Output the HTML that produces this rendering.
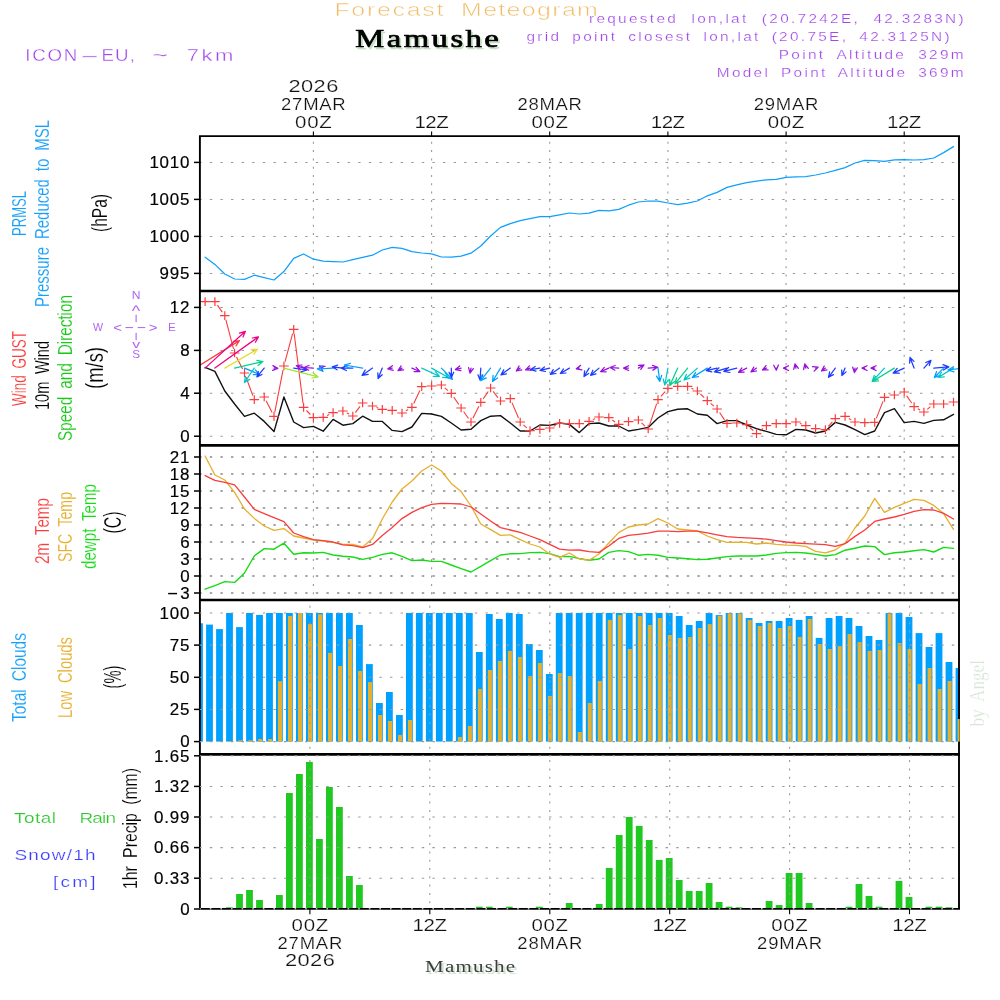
<!DOCTYPE html>
<html><head><meta charset="utf-8"><title>Forecast Meteogram - Mamushe</title>
<style>html,body{margin:0;padding:0;background:#fff}svg{display:block}</style></head>
<body>
<svg width="1000" height="1000" viewBox="0 0 1000 1000">
<rect width="1000" height="1000" fill="#fff"/>
<defs><clipPath id="c2"><rect x="199.9" y="291" width="759" height="154.4"/></clipPath>
<clipPath id="c4"><rect x="199.9" y="600" width="759.8" height="308.8"/></clipPath></defs>
<line x1="199.2" y1="162.4" x2="958" y2="162.4" stroke="#999" stroke-width="1.05" stroke-dasharray="2.4 8.2"/>
<line x1="199.2" y1="199.4" x2="958" y2="199.4" stroke="#999" stroke-width="1.05" stroke-dasharray="2.4 8.2"/>
<line x1="199.2" y1="236.4" x2="958" y2="236.4" stroke="#999" stroke-width="1.05" stroke-dasharray="2.4 8.2"/>
<line x1="199.2" y1="273.4" x2="958" y2="273.4" stroke="#999" stroke-width="1.05" stroke-dasharray="2.4 8.2"/>
<line x1="313.4" y1="141.8" x2="313.4" y2="291" stroke="#999" stroke-width="1.1" stroke-dasharray="2 6.3"/>
<line x1="431.6" y1="141.8" x2="431.6" y2="291" stroke="#999" stroke-width="1.1" stroke-dasharray="2 6.3"/>
<line x1="549.7" y1="141.8" x2="549.7" y2="291" stroke="#999" stroke-width="1.1" stroke-dasharray="2 6.3"/>
<line x1="667.9" y1="141.8" x2="667.9" y2="291" stroke="#999" stroke-width="1.1" stroke-dasharray="2 6.3"/>
<line x1="786.1" y1="141.8" x2="786.1" y2="291" stroke="#999" stroke-width="1.1" stroke-dasharray="2 6.3"/>
<line x1="904.2" y1="141.8" x2="904.2" y2="291" stroke="#999" stroke-width="1.1" stroke-dasharray="2 6.3"/>
<polyline points="205.1,257.2 214.9,264.4 224.8,274 234.6,279 244.5,279.4 254.3,275.2 264.2,277.6 274,280 283.9,271.6 293.7,258.4 303.6,254 313.4,259.2 323.2,261.2 333.1,261.6 342.9,262 352.8,259.6 362.6,257.4 372.5,255.2 382.3,250 392.2,247.4 402,248.4 411.9,251.6 421.7,253 431.6,253.8 441.4,257 451.3,257.2 461.1,256.2 471,253.2 480.8,246 490.6,236 500.5,227.4 510.3,223.6 520.2,220.6 530,218.6 539.9,216.6 549.7,216.6 559.6,214.8 569.4,213 579.3,214 589.1,213.2 599,210.4 608.8,210.8 618.7,209.4 628.5,205.2 638.4,202 648.2,201 658,201.2 667.9,203 677.7,204.6 687.6,203.2 697.4,201 707.3,195.8 717.1,192.4 727,187.4 736.8,184.8 746.7,182.6 756.5,181.2 766.4,179.8 776.2,179.4 786.1,177.4 795.9,176.8 805.8,176.6 815.6,175 825.4,173 835.3,170.4 845.1,167.6 855,163 864.8,160.4 874.7,160.6 884.5,161.4 894.4,159.8 904.2,159.6 914.1,160 923.9,159.6 933.8,158 943.6,152.6 953.5,146.6" fill="none" stroke="#0ea0fc" stroke-width="1.25" stroke-linejoin="round" stroke-linecap="round"/>
<line x1="199.2" y1="307.4" x2="958" y2="307.4" stroke="#999" stroke-width="1.05" stroke-dasharray="2.4 8.2"/>
<line x1="199.2" y1="350.4" x2="958" y2="350.4" stroke="#999" stroke-width="1.05" stroke-dasharray="2.4 8.2"/>
<line x1="199.2" y1="393.2" x2="958" y2="393.2" stroke="#999" stroke-width="1.05" stroke-dasharray="2.4 8.2"/>
<line x1="199.2" y1="436.2" x2="958" y2="436.2" stroke="#999" stroke-width="1.05" stroke-dasharray="2.4 8.2"/>
<line x1="313.4" y1="296.7" x2="313.4" y2="445.4" stroke="#999" stroke-width="1.1" stroke-dasharray="2 6.3"/>
<line x1="431.6" y1="296.7" x2="431.6" y2="445.4" stroke="#999" stroke-width="1.1" stroke-dasharray="2 6.3"/>
<line x1="549.7" y1="296.7" x2="549.7" y2="445.4" stroke="#999" stroke-width="1.1" stroke-dasharray="2 6.3"/>
<line x1="667.9" y1="296.7" x2="667.9" y2="445.4" stroke="#999" stroke-width="1.1" stroke-dasharray="2 6.3"/>
<line x1="786.1" y1="296.7" x2="786.1" y2="445.4" stroke="#999" stroke-width="1.1" stroke-dasharray="2 6.3"/>
<line x1="904.2" y1="296.7" x2="904.2" y2="445.4" stroke="#999" stroke-width="1.1" stroke-dasharray="2 6.3"/>
<polyline points="205.1,367.4 214.9,371.4 224.8,391 234.6,404 244.5,416.4 254.3,413.2 264.2,421.4 274,431.6 283.9,397 293.7,422 303.6,427.6 313.4,426.4 323.2,431.2 333.1,419.4 342.9,425.2 352.8,423.6 362.6,416.2 372.5,421.4 382.3,421.4 392.2,430.4 402,431.6 411.9,427 421.7,413.4 431.6,414 441.4,416.4 451.3,423 461.1,430 471,429.2 480.8,420.6 490.6,416.2 500.5,415.6 510.3,423 520.2,431 530,431 539.9,425 549.7,425.4 559.6,423 569.4,424.4 579.3,432.6 589.1,423.6 599,423 608.8,426 618.7,426 628.5,431 638.4,429.4 648.2,427.4 658,418 667.9,411.6 677.7,409.2 687.6,408.8 697.4,414 707.3,415.2 717.1,423.6 727,420.6 736.8,420.6 746.7,425 756.5,428.6 766.4,431.4 776.2,434.4 786.1,434.8 795.9,429.4 805.8,430 815.6,433 825.4,431 835.3,422.4 845.1,425 855,429.6 864.8,434.6 874.7,431 884.5,412.6 894.4,408.6 904.2,422.6 914.1,421.4 923.9,423.4 933.8,420.4 943.6,419.8 953.5,414.4" fill="none" stroke="#111" stroke-width="1.4" stroke-linejoin="round" stroke-linecap="round"/>
<path d="M217.4 305.1L222.3 312.1M225.9 319.8L233.5 348.8M236.5 356.9L242.6 369.1M246 377L252.8 395.6M266.1 400.8L272.1 412.6M274.8 412.2L283 370.2M285 361.8L292.6 333.6M294.2 333.7L303 403.1M306.5 410.5L310.4 414.5M327.1 415.5L329.2 414.5M346.8 412.9L349 414.1M355.4 412.6L360 406.4M376.5 407.4L378.3 408M405.8 410.9L408.1 409.5M413.7 403.5L419.9 390.5M444.7 387.8L448 390.6M453.7 397L458.7 404.4M463.6 411.5L468.5 418.5M472.9 418.2L478.9 406.2M483.2 398.9L488.2 391.5M493.2 391.4L497.9 397.6M512 402.6L518.5 418M523.4 424.8L526.8 427.8M553.6 426.2L555.7 425.2M593 419.6L595 418.8M612.3 420L615.1 422M641.5 422.9L645 426.1M649.6 424.9L656.7 403.7M660.9 396.4L665.1 391.6M691.5 388.2L693.5 389.2M700.5 394L704.2 397.6M710.6 403.4L713.9 406.2M719.6 412.5L724.5 419.9M749.8 427.5L753.3 430.7M759.9 430.9L763 428.3M799.9 423.5L801.7 424.1M828.3 426.4L832.4 421.8M848.9 418.5L851.2 419.9M876.3 418.4L883 401.4M906.6 395.6L911.7 403M917.8 408.7L920.1 409.9M927.3 409.3L930.4 406.7" stroke="#fa3c3c" stroke-width="1.1" fill="none"/>
<path d="M200.3 301.6h9.6M205.1 297.3v8.6M210.1 301.6h9.6M214.9 297.3v8.6M220 315.6h9.6M224.8 311.3v8.6M229.8 353h9.6M234.6 348.7v8.6M239.7 373h9.6M244.5 368.7v8.6M249.5 399.6h9.6M254.3 395.3v8.6M259.4 397h9.6M264.2 392.7v8.6M269.2 416.4h9.6M274 412.1v8.6M279.1 366h9.6M283.9 361.7v8.6M288.9 329.4h9.6M293.7 325.1v8.6M298.8 407.4h9.6M303.6 403.1v8.6M308.6 417.6h9.6M313.4 413.3v8.6M318.4 417.4h9.6M323.2 413.1v8.6M328.3 412.6h9.6M333.1 408.3v8.6M338.1 411h9.6M342.9 406.7v8.6M348 416h9.6M352.8 411.7v8.6M357.8 403h9.6M362.6 398.7v8.6M367.7 406h9.6M372.5 401.7v8.6M377.5 409.4h9.6M382.3 405.1v8.6M387.4 410.4h9.6M392.2 406.1v8.6M397.2 413h9.6M402 408.7v8.6M407.1 407.4h9.6M411.9 403.1v8.6M416.9 386.6h9.6M421.7 382.3v8.6M426.8 386h9.6M431.6 381.7v8.6M436.6 385h9.6M441.4 380.7v8.6M446.5 393.4h9.6M451.3 389.1v8.6M456.3 408h9.6M461.1 403.7v8.6M466.2 422h9.6M471 417.7v8.6M476 402.4h9.6M480.8 398.1v8.6M485.8 388h9.6M490.6 383.7v8.6M495.7 401h9.6M500.5 396.7v8.6M505.5 398.6h9.6M510.3 394.3v8.6M515.4 422h9.6M520.2 417.7v8.6M525.2 430.6h9.6M530 426.3v8.6M535.1 429.4h9.6M539.9 425.1v8.6M544.9 428h9.6M549.7 423.7v8.6M554.8 423.4h9.6M559.6 419.1v8.6M564.6 423.6h9.6M569.4 419.3v8.6M574.5 423.6h9.6M579.3 419.3v8.6M584.3 421.4h9.6M589.1 417.1v8.6M594.2 417h9.6M599 412.7v8.6M604 417.6h9.6M608.8 413.3v8.6M613.9 424.4h9.6M618.7 420.1v8.6M623.7 421.6h9.6M628.5 417.3v8.6M633.6 420h9.6M638.4 415.7v8.6M643.4 429h9.6M648.2 424.7v8.6M653.2 399.6h9.6M658 395.3v8.6M663.1 388.4h9.6M667.9 384.1v8.6M672.9 386.4h9.6M677.7 382.1v8.6M682.8 386.4h9.6M687.6 382.1v8.6M692.6 391h9.6M697.4 386.7v8.6M702.5 400.6h9.6M707.3 396.3v8.6M712.3 409h9.6M717.1 404.7v8.6M722.2 423.4h9.6M727 419.1v8.6M732 423h9.6M736.8 418.7v8.6M741.9 424.6h9.6M746.7 420.3v8.6M751.7 433.6h9.6M756.5 429.3v8.6M761.6 425.6h9.6M766.4 421.3v8.6M771.4 423.6h9.6M776.2 419.3v8.6M781.3 423.6h9.6M786.1 419.3v8.6M791.1 422h9.6M795.9 417.7v8.6M801 425.6h9.6M805.8 421.3v8.6M810.8 428.6h9.6M815.6 424.3v8.6M820.6 429.6h9.6M825.4 425.3v8.6M830.5 418.6h9.6M835.3 414.3v8.6M840.3 416.4h9.6M845.1 412.1v8.6M850.2 422h9.6M855 417.7v8.6M860 422.6h9.6M864.8 418.3v8.6M869.9 422.4h9.6M874.7 418.1v8.6M879.7 397.4h9.6M884.5 393.1v8.6M889.6 395h9.6M894.4 390.7v8.6M899.4 392h9.6M904.2 387.7v8.6M909.3 406.6h9.6M914.1 402.3v8.6M919.1 412h9.6M923.9 407.7v8.6M929 404h9.6M933.8 399.7v8.6M938.8 404h9.6M943.6 399.7v8.6M948.7 402h9.6M953.5 397.7v8.6" stroke="#fa3c3c" stroke-width="1.2" fill="none"/>
<g clip-path="url(#c2)" fill="none" stroke-width="1.25" stroke-linecap="round">
<path d="M195.2 368.1L239.4 340.6M239.4 340.6L233.2 341.3M239.4 340.6L236 345.8" stroke="#fa3c3c"/>
<path d="M205.1 368.1L245.4 331.3M245.4 331.3L239.5 333.2M245.4 331.3L243 337" stroke="#f00082"/>
<path d="M214.9 368.1L258.4 336.9M258.4 336.9L252.3 338M258.4 336.9L255.4 342.3" stroke="#f00082"/>
<path d="M224.8 368.1L257.5 349.1M257.5 349.1L251.3 349.7M257.5 349.1L254 354.2" stroke="#e6dc32"/>
<path d="M234.6 368.1L262.9 361.6M262.9 361.6L256.8 360.3M262.9 361.6L258 365.4" stroke="#00d28c"/>
<path d="M244.5 368.1L259.4 374.5M259.4 374.5L255.3 369.9M259.4 374.5L253.2 374.7" stroke="#00a0ff"/>
<path d="M254.3 368.1L244.4 382.5M244.4 382.5L249.7 379.4M244.4 382.5L245.4 376.4" stroke="#00c8c8"/>
<path d="M264.2 368.1L256.9 376.9M256.9 376.9L262 374.5M256.9 376.9L258.3 371.5" stroke="#1e3cff"/>
<path d="M274 368.1L277.8 368.4M277.8 368.4L272.9 365.6M277.8 368.4L272.6 370.4" stroke="#9a10dc"/>
<path d="M283.9 368.1L318.1 376.9M318.1 376.9L313.3 373M318.1 376.9L312 378" stroke="#a0e632"/>
<path d="M293.7 368.1L306.9 370M306.9 370L301.7 366.6M306.9 370L301 371.8" stroke="#1e3cff"/>
<path d="M303.6 368.1L296.3 365.6M296.3 365.6L300.3 369.5M296.3 365.6L301.9 365" stroke="#9a10dc"/>
<path d="M313.4 368.1L303.8 367.5M303.8 367.5L308.7 370.2M303.8 367.5L309 365.5" stroke="#9a10dc"/>
<path d="M323.2 368.1L319.4 365.8M319.4 365.8L322.5 370.4M319.4 365.8L325 366.4" stroke="#9a10dc"/>
<path d="M333.1 368.1L317.3 369M317.3 369L323.1 371.3M317.3 369L322.8 366.1" stroke="#00a0ff"/>
<path d="M342.9 368.1L332.3 366.9M332.3 366.9L337.1 369.8M332.3 366.9L337.6 365.1" stroke="#1e3cff"/>
<path d="M352.8 368.1L341.3 368.1M341.3 368.1L346.4 370.5M341.3 368.1L346.4 365.7" stroke="#1e3cff"/>
<path d="M362.6 368.1L344.4 365M344.4 365L349.5 368.5M344.4 365L350.4 363.4" stroke="#00a0ff"/>
<path d="M372.5 368.1L362.1 375.4M362.1 375.4L368.2 374.3M362.1 375.4L365.2 370" stroke="#1e3cff"/>
<path d="M382.3 368.1L378.1 378.5M378.1 378.5L382.2 374.7M378.1 378.5L377.8 372.9" stroke="#1e3cff"/>
<path d="M392.2 368.1L387.8 368.8M387.8 368.8L393.2 370.3M387.8 368.8L392.4 365.7" stroke="#9a10dc"/>
<path d="M402 368.1L398 370.6M398 370.6L403.6 369.9M398 370.6L401.1 365.9" stroke="#9a10dc"/>
<path d="M411.9 368.1L419.8 371.5M419.8 371.5L416.1 367.3M419.8 371.5L414.2 371.7" stroke="#9a10dc"/>
<path d="M421.7 368.1L439.4 376.3M439.4 376.3L435.4 371.6M439.4 376.3L433.2 376.3" stroke="#00c8c8"/>
<path d="M431.6 368.1L448.8 377.8M448.8 377.8L445.2 372.8M448.8 377.8L442.6 377.3" stroke="#00c8c8"/>
<path d="M441.4 368.1L452.5 379.4M452.5 379.4L450.4 373.6M452.5 379.4L446.7 377.2" stroke="#00a0ff"/>
<path d="M451.3 368.1L451.5 377.3M451.5 377.3L453.7 372.2M451.5 377.3L449 372.3" stroke="#1e3cff"/>
<path d="M461.1 368.1L455.4 369.6M455.4 369.6L460.9 370.6M455.4 369.6L459.7 366" stroke="#9a10dc"/>
<path d="M471 368.1L470 373.1M470 373.1L473.3 368.6M470 373.1L468.6 367.7" stroke="#9a10dc"/>
<path d="M480.8 368.1L480 380M480 380L482.7 375.1M480 380L478 374.8" stroke="#1e3cff"/>
<path d="M490.6 368.1L480.6 380.6M480.6 380.6L486.2 377.9M480.6 380.6L482.1 374.6" stroke="#00a0ff"/>
<path d="M500.5 368.1L492.5 381.5M492.5 381.5L497.6 378M492.5 381.5L493.1 375.3" stroke="#00a0ff"/>
<path d="M510.3 368.1L501 374.8M501 374.8L506.5 373.8M501 374.8L503.7 369.9" stroke="#1e3cff"/>
<path d="M520.2 368.1L516.3 371M516.3 371L521.8 369.9M516.3 371L519 366.1" stroke="#9a10dc"/>
<path d="M530 368.1L525.6 369.9M525.6 369.9L531.2 370.2M525.6 369.9L529.4 365.8" stroke="#9a10dc"/>
<path d="M539.9 368.1L530.6 369.6M530.6 369.6L536 371.1M530.6 369.6L535.2 366.5" stroke="#1e3cff"/>
<path d="M549.7 368.1L540 370.4M540 370.4L545.5 371.5M540 370.4L544.4 366.9" stroke="#1e3cff"/>
<path d="M559.6 368.1L550.4 374.4M550.4 374.4L555.9 373.5M550.4 374.4L553.2 369.6" stroke="#1e3cff"/>
<path d="M569.4 368.1L560.3 373.5M560.3 373.5L565.9 373M560.3 373.5L563.5 368.9" stroke="#1e3cff"/>
<path d="M579.3 368.1L576.3 368.8M576.3 368.8L581.8 369.9M576.3 368.8L580.7 365.3" stroke="#9a10dc"/>
<path d="M589.1 368.1L584 376.5M584 376.5L588.7 373.4M584 376.5L584.6 370.9" stroke="#1e3cff"/>
<path d="M599 368.1L590.6 375.3M590.6 375.3L596 373.8M590.6 375.3L592.9 370.2" stroke="#1e3cff"/>
<path d="M608.8 368.1L600.6 371.6M600.6 371.6L606.2 371.8M600.6 371.6L604.3 367.4" stroke="#9a10dc"/>
<path d="M618.7 368.1L610 367.5M610 367.5L614.9 370.2M610 367.5L615.2 365.5" stroke="#9a10dc"/>
<path d="M628.5 368.1L623.5 368.1M623.5 368.1L628.6 370.5M623.5 368.1L628.6 365.7" stroke="#9a10dc"/>
<path d="M638.4 368.1L644 364.8M644 364.8L638.4 365.3M644 364.8L640.8 369.4" stroke="#9a10dc"/>
<path d="M648.2 368.1L657.8 367.3M657.8 367.3L652.5 365.4M657.8 367.3L652.9 370.1" stroke="#9a10dc"/>
<path d="M658 368.1L659.8 381.3M659.8 381.3L661.7 375.4M659.8 381.3L656.5 376.1" stroke="#00a0ff"/>
<path d="M667.9 368.1L664.8 385M664.8 385L668.4 379.9M664.8 385L663.2 379" stroke="#00c8c8"/>
<path d="M677.7 368.1L669.8 385.6M669.8 385.6L674.5 381.6M669.8 385.6L669.7 379.4" stroke="#00d28c"/>
<path d="M687.6 368.1L675 383.8M675 383.8L680.6 381.1M675 383.8L676.5 377.8" stroke="#00d28c"/>
<path d="M697.4 368.1L684 380M684 380L689.9 378.2M684 380L686.5 374.3" stroke="#00c8c8"/>
<path d="M707.3 368.1L692.3 377.5M692.3 377.5L698.5 376.7M692.3 377.5L695.7 372.3" stroke="#00a0ff"/>
<path d="M717.1 368.1L706.3 370.6M706.3 370.6L711.8 371.8M706.3 370.6L710.7 367.2" stroke="#1e3cff"/>
<path d="M727 368.1L714.4 371.9M714.4 371.9L720.5 372.8M714.4 371.9L719 367.8" stroke="#1e3cff"/>
<path d="M736.8 368.1L723.8 371.3M723.8 371.3L729.9 372.5M723.8 371.3L728.6 367.4" stroke="#1e3cff"/>
<path d="M746.7 368.1L738.5 372.3M738.5 372.3L744.1 372.1M738.5 372.3L741.9 367.9" stroke="#9a10dc"/>
<path d="M756.5 368.1L751 371.9M751 371.9L756.5 371M751 371.9L753.8 367.1" stroke="#9a10dc"/>
<path d="M766.4 368.1L762.5 370M762.5 370L768.1 369.9M762.5 370L766 365.6" stroke="#9a10dc"/>
<path d="M776.2 368.1L776.3 370.2M776.3 370.2L778.4 365M776.3 370.2L773.7 365.2" stroke="#9a10dc"/>
<path d="M786.1 368.1L783.4 368.1M783.4 368.1L788.5 370.5M783.4 368.1L788.5 365.7" stroke="#9a10dc"/>
<path d="M795.9 368.1L795 363.8M795 363.8L793.7 369.3M795 363.8L798.4 368.3" stroke="#9a10dc"/>
<path d="M805.8 368.1L804.8 364M804.8 364L803.6 369.5M804.8 364L808.3 368.4" stroke="#9a10dc"/>
<path d="M815.6 368.1L818.1 367.2M818.1 367.2L812.5 366.7M818.1 367.2L814.1 371.1" stroke="#9a10dc"/>
<path d="M825.4 368.1L821.5 371M821.5 371L827 369.9M821.5 371L824.2 366.1" stroke="#9a10dc"/>
<path d="M835.3 368.1L828.5 377.3M828.5 377.3L833.4 374.6M828.5 377.3L829.6 371.8" stroke="#1e3cff"/>
<path d="M845.1 368.1L841.9 375.6M841.9 375.6L846.1 371.9M841.9 375.6L841.7 370" stroke="#1e3cff"/>
<path d="M855 368.1L854.4 372.5M854.4 372.5L857.4 367.8M854.4 372.5L852.7 367.2" stroke="#9a10dc"/>
<path d="M864.8 368.1L862 368.1M862 368.1L867.1 370.5M862 368.1L867.1 365.7" stroke="#9a10dc"/>
<path d="M874.7 368.1L871 368.1M871 368.1L876.1 370.5M871 368.1L876.1 365.7" stroke="#9a10dc"/>
<path d="M884.5 368.1L872.3 381.3M872.3 381.3L878 379M872.3 381.3L874.2 375.4" stroke="#00c8c8"/>
<path d="M894.4 368.1L872.3 381.5M872.3 381.5L878.5 380.8M872.3 381.5L875.7 376.3" stroke="#00d28c"/>
<path d="M904.2 368.1L893.1 373.1M893.1 373.1L899.3 373.2M893.1 373.1L897.2 368.4" stroke="#1e3cff"/>
<path d="M914.1 368.1L910 357.5M910 357.5L909.6 363.1M910 357.5L914 361.4" stroke="#1e3cff"/>
<path d="M923.9 368.1L931 360.3M931 360.3L925.8 362.5M931 360.3L929.3 365.6" stroke="#1e3cff"/>
<path d="M933.8 368.1L948.8 366.9M948.8 366.9L943 364.7M948.8 366.9L943.4 370" stroke="#1e3cff"/>
<path d="M943.6 368.1L934.4 377.5M934.4 377.5L940.2 375.3M934.4 377.5L936.5 371.7" stroke="#00a0ff"/>
<path d="M953.5 368.1L938.1 377.5M938.1 377.5L944.3 376.8M938.1 377.5L941.5 372.3" stroke="#00c8c8"/>
<path d="M963.3 368.1L948.1 370M948.1 370L954 371.9M948.1 370L953.4 366.7" stroke="#00a0ff"/>
</g>
<line x1="199.2" y1="457" x2="958" y2="457" stroke="#8a8a8a" stroke-width="1.4" stroke-dasharray="2.4 8.2"/>
<line x1="199.2" y1="474" x2="958" y2="474" stroke="#8a8a8a" stroke-width="1.4" stroke-dasharray="2.4 8.2"/>
<line x1="199.2" y1="491" x2="958" y2="491" stroke="#8a8a8a" stroke-width="1.4" stroke-dasharray="2.4 8.2"/>
<line x1="199.2" y1="508" x2="958" y2="508" stroke="#8a8a8a" stroke-width="1.4" stroke-dasharray="2.4 8.2"/>
<line x1="199.2" y1="525" x2="958" y2="525" stroke="#8a8a8a" stroke-width="1.4" stroke-dasharray="2.4 8.2"/>
<line x1="199.2" y1="542" x2="958" y2="542" stroke="#8a8a8a" stroke-width="1.4" stroke-dasharray="2.4 8.2"/>
<line x1="199.2" y1="559" x2="958" y2="559" stroke="#8a8a8a" stroke-width="1.4" stroke-dasharray="2.4 8.2"/>
<line x1="199.2" y1="576" x2="958" y2="576" stroke="#8a8a8a" stroke-width="1.4" stroke-dasharray="2.4 8.2"/>
<line x1="199.2" y1="593" x2="958" y2="593" stroke="#8a8a8a" stroke-width="1.4" stroke-dasharray="2.4 8.2"/>
<line x1="313.4" y1="451.1" x2="313.4" y2="600" stroke="#999" stroke-width="1.1" stroke-dasharray="2 6.3"/>
<line x1="431.6" y1="451.1" x2="431.6" y2="600" stroke="#999" stroke-width="1.1" stroke-dasharray="2 6.3"/>
<line x1="549.7" y1="451.1" x2="549.7" y2="600" stroke="#999" stroke-width="1.1" stroke-dasharray="2 6.3"/>
<line x1="667.9" y1="451.1" x2="667.9" y2="600" stroke="#999" stroke-width="1.1" stroke-dasharray="2 6.3"/>
<line x1="786.1" y1="451.1" x2="786.1" y2="600" stroke="#999" stroke-width="1.1" stroke-dasharray="2 6.3"/>
<line x1="904.2" y1="451.1" x2="904.2" y2="600" stroke="#999" stroke-width="1.1" stroke-dasharray="2 6.3"/>
<polyline points="205.1,589.2 214.9,585.6 224.8,581.6 234.6,582.4 244.5,573 254.3,556 264.2,548.6 274,549.2 283.9,543.2 293.7,554.2 303.6,552.8 313.4,553 323.2,552.4 333.1,555 342.9,556.2 352.8,557 362.6,559.4 372.5,557.4 382.3,554.4 392.2,552.8 402,556.4 411.9,560.6 421.7,560 431.6,561.4 441.4,561.4 451.3,565 461.1,568.6 471,572 480.8,566.4 490.6,560.6 500.5,555 510.3,553.8 520.2,553.6 530,552.6 539.9,552.4 549.7,553.6 559.6,556.6 569.4,556.4 579.3,558.6 589.1,560.2 599,559 608.8,552.4 618.7,550.6 628.5,551.6 638.4,555.2 648.2,554.4 658,555.2 667.9,557.4 677.7,558 687.6,558.8 697.4,559.6 707.3,559.2 717.1,558 727,556.6 736.8,556 746.7,556 756.5,556 766.4,555 776.2,553.4 786.1,552.6 795.9,552.4 805.8,553 815.6,554.4 825.4,556 835.3,554.6 845.1,550.2 855,548.2 864.8,546 874.7,546.6 884.5,554.6 894.4,552.8 904.2,552 914.1,550.8 923.9,549.6 933.8,552 943.6,547.4 953.5,548.4" fill="none" stroke="#14dc14" stroke-width="1.4" stroke-linejoin="round" stroke-linecap="round"/>
<polyline points="205.1,456 214.9,475 224.8,480 234.6,492.4 244.5,509 254.3,518.4 264.2,526 274,530.4 283.9,528.6 293.7,536 303.6,538 313.4,540 323.2,541 333.1,542.4 342.9,544.4 352.8,544.4 362.6,547 372.5,538.6 382.3,519 392.2,502 402,489 411.9,481 421.7,471 431.6,465 441.4,471 451.3,483.4 461.1,491.6 471,506 480.8,524 490.6,529.6 500.5,535.4 510.3,534.8 520.2,539.6 530,544 539.9,547 549.7,554 559.6,557.4 569.4,553 579.3,559 589.1,560.2 599,554 608.8,543 618.7,532.6 628.5,527 638.4,525 648.2,524 658,518.6 667.9,523 677.7,529 687.6,530 697.4,531 707.3,536 717.1,539.6 727,542.4 736.8,542.2 746.7,542.4 756.5,544 766.4,543 776.2,544.4 786.1,545.2 795.9,545.4 805.8,546.4 815.6,551.4 825.4,552.8 835.3,550 845.1,543 855,528 864.8,516 874.7,498.4 884.5,512.4 894.4,507.4 904.2,503.4 914.1,499.4 923.9,500.4 933.8,505.4 943.6,513.6 953.5,529.4" fill="none" stroke="#e6af2d" stroke-width="1.3" stroke-linejoin="round" stroke-linecap="round"/>
<polyline points="205.1,475.6 214.9,480.4 224.8,482.4 234.6,484.8 244.5,497 254.3,509.4 264.2,513.6 274,517.6 283.9,521.6 293.7,533 303.6,536.6 313.4,539.6 323.2,540.6 333.1,542 342.9,544.8 352.8,545.6 362.6,547.6 372.5,544.4 382.3,535.6 392.2,527.6 402,518.6 411.9,512.4 421.7,507.6 431.6,504.4 441.4,503.4 451.3,503.6 461.1,504 471,507 480.8,514 490.6,521 500.5,527.6 510.3,530 520.2,532.4 530,536 539.9,539.6 549.7,544.4 559.6,549.2 569.4,550.2 579.3,550 589.1,551.6 599,552.4 608.8,546 618.7,538.4 628.5,535.4 638.4,534.4 648.2,533.2 658,531.2 667.9,531.2 677.7,531.6 687.6,531.2 697.4,531.2 707.3,532.8 717.1,534.8 727,536.6 736.8,537.4 746.7,537.8 756.5,538.4 766.4,539.2 776.2,540.6 786.1,542 795.9,543 805.8,543.6 815.6,544.2 825.4,544.6 835.3,546.4 845.1,543.6 855,536.4 864.8,530 874.7,521.4 884.5,519 894.4,517 904.2,514.4 914.1,511.4 923.9,509.6 933.8,510 943.6,513.4 953.5,519" fill="none" stroke="#fa3c3c" stroke-width="1.3" stroke-linejoin="round" stroke-linecap="round"/>
<g clip-path="url(#c4)">
<rect x="196.1" y="623.3" width="6.8" height="118.3" fill="#00a0ff"/>
<rect x="206.1" y="624.6" width="6.8" height="117" fill="#00a0ff"/>
<rect x="216.1" y="629.1" width="6.8" height="112.5" fill="#00a0ff"/>
<rect x="226.1" y="613" width="6.8" height="128.6" fill="#00a0ff"/>
<rect x="236.1" y="627.1" width="6.8" height="114.5" fill="#00a0ff"/>
<rect x="246.1" y="613" width="6.8" height="128.6" fill="#00a0ff"/>
<rect x="256.1" y="614.9" width="6.8" height="126.7" fill="#00a0ff"/>
<rect x="266.1" y="613" width="6.8" height="128.6" fill="#00a0ff"/>
<rect x="276" y="613" width="6.8" height="128.6" fill="#00a0ff"/>
<rect x="286" y="613" width="6.8" height="128.6" fill="#00a0ff"/>
<rect x="296" y="613" width="6.8" height="128.6" fill="#00a0ff"/>
<rect x="306" y="613" width="6.8" height="128.6" fill="#00a0ff"/>
<rect x="316" y="613" width="6.8" height="128.6" fill="#00a0ff"/>
<rect x="326" y="613" width="6.8" height="128.6" fill="#00a0ff"/>
<rect x="336" y="613" width="6.8" height="128.6" fill="#00a0ff"/>
<rect x="346" y="613" width="6.8" height="128.6" fill="#00a0ff"/>
<rect x="356" y="625" width="6.8" height="116.6" fill="#00a0ff"/>
<rect x="366" y="664.1" width="6.8" height="77.5" fill="#00a0ff"/>
<rect x="376" y="703" width="6.8" height="38.6" fill="#00a0ff"/>
<rect x="386" y="692" width="6.8" height="49.6" fill="#00a0ff"/>
<rect x="396" y="715" width="6.8" height="26.6" fill="#00a0ff"/>
<rect x="406" y="613" width="6.8" height="128.6" fill="#00a0ff"/>
<rect x="415.9" y="613" width="6.8" height="128.6" fill="#00a0ff"/>
<rect x="425.9" y="613" width="6.8" height="128.6" fill="#00a0ff"/>
<rect x="435.9" y="613" width="6.8" height="128.6" fill="#00a0ff"/>
<rect x="445.9" y="613" width="6.8" height="128.6" fill="#00a0ff"/>
<rect x="455.9" y="613" width="6.8" height="128.6" fill="#00a0ff"/>
<rect x="465.9" y="613" width="6.8" height="128.6" fill="#00a0ff"/>
<rect x="475.9" y="652" width="6.8" height="89.6" fill="#00a0ff"/>
<rect x="485.9" y="614" width="6.8" height="127.6" fill="#00a0ff"/>
<rect x="495.9" y="619" width="6.8" height="122.6" fill="#00a0ff"/>
<rect x="505.9" y="613" width="6.8" height="128.6" fill="#00a0ff"/>
<rect x="515.9" y="614" width="6.8" height="127.6" fill="#00a0ff"/>
<rect x="525.9" y="644" width="6.8" height="97.6" fill="#00a0ff"/>
<rect x="535.9" y="650" width="6.8" height="91.6" fill="#00a0ff"/>
<rect x="545.9" y="674" width="6.8" height="67.6" fill="#00a0ff"/>
<rect x="555.8" y="613" width="6.8" height="128.6" fill="#00a0ff"/>
<rect x="565.8" y="613" width="6.8" height="128.6" fill="#00a0ff"/>
<rect x="575.8" y="613" width="6.8" height="128.6" fill="#00a0ff"/>
<rect x="585.8" y="613" width="6.8" height="128.6" fill="#00a0ff"/>
<rect x="595.8" y="613" width="6.8" height="128.6" fill="#00a0ff"/>
<rect x="605.8" y="613" width="6.8" height="128.6" fill="#00a0ff"/>
<rect x="615.8" y="613" width="6.8" height="128.6" fill="#00a0ff"/>
<rect x="625.8" y="613" width="6.8" height="128.6" fill="#00a0ff"/>
<rect x="635.8" y="613" width="6.8" height="128.6" fill="#00a0ff"/>
<rect x="645.8" y="613" width="6.8" height="128.6" fill="#00a0ff"/>
<rect x="655.8" y="613" width="6.8" height="128.6" fill="#00a0ff"/>
<rect x="665.8" y="613" width="6.8" height="128.6" fill="#00a0ff"/>
<rect x="675.8" y="616" width="6.8" height="125.6" fill="#00a0ff"/>
<rect x="685.8" y="625" width="6.8" height="116.6" fill="#00a0ff"/>
<rect x="695.8" y="621" width="6.8" height="120.6" fill="#00a0ff"/>
<rect x="705.7" y="613" width="6.8" height="128.6" fill="#00a0ff"/>
<rect x="715.7" y="615.1" width="6.8" height="126.5" fill="#00a0ff"/>
<rect x="725.7" y="613" width="6.8" height="128.6" fill="#00a0ff"/>
<rect x="735.7" y="613" width="6.8" height="128.6" fill="#00a0ff"/>
<rect x="745.7" y="618" width="6.8" height="123.6" fill="#00a0ff"/>
<rect x="755.7" y="623" width="6.8" height="118.6" fill="#00a0ff"/>
<rect x="765.7" y="621" width="6.8" height="120.6" fill="#00a0ff"/>
<rect x="775.7" y="621" width="6.8" height="120.6" fill="#00a0ff"/>
<rect x="785.7" y="618" width="6.8" height="123.6" fill="#00a0ff"/>
<rect x="795.7" y="619.9" width="6.8" height="121.7" fill="#00a0ff"/>
<rect x="805.7" y="616" width="6.8" height="125.6" fill="#00a0ff"/>
<rect x="815.7" y="637.9" width="6.8" height="103.7" fill="#00a0ff"/>
<rect x="825.7" y="618" width="6.8" height="123.6" fill="#00a0ff"/>
<rect x="835.7" y="616" width="6.8" height="125.6" fill="#00a0ff"/>
<rect x="845.6" y="618" width="6.8" height="123.6" fill="#00a0ff"/>
<rect x="855.6" y="626" width="6.8" height="115.6" fill="#00a0ff"/>
<rect x="865.6" y="636" width="6.8" height="105.6" fill="#00a0ff"/>
<rect x="875.6" y="640" width="6.8" height="101.6" fill="#00a0ff"/>
<rect x="885.6" y="613" width="6.8" height="128.6" fill="#00a0ff"/>
<rect x="895.6" y="613" width="6.8" height="128.6" fill="#00a0ff"/>
<rect x="905.6" y="617" width="6.8" height="124.6" fill="#00a0ff"/>
<rect x="915.6" y="633.1" width="6.8" height="108.5" fill="#00a0ff"/>
<rect x="925.6" y="647" width="6.8" height="94.6" fill="#00a0ff"/>
<rect x="935.6" y="633.1" width="6.8" height="108.5" fill="#00a0ff"/>
<rect x="945.6" y="662" width="6.8" height="79.6" fill="#00a0ff"/>
<rect x="955.6" y="668" width="6.8" height="73.6" fill="#00a0ff"/>
</g>
<rect x="226.1" y="907.3" width="6.8" height="1.7" fill="#22c822"/>
<rect x="236.1" y="894" width="6.8" height="15" fill="#22c822"/>
<rect x="246.1" y="890" width="6.8" height="19" fill="#22c822"/>
<rect x="256.1" y="900" width="6.8" height="9" fill="#22c822"/>
<rect x="276" y="895" width="6.8" height="14" fill="#22c822"/>
<rect x="286" y="793" width="6.8" height="116" fill="#22c822"/>
<rect x="296" y="774" width="6.8" height="135" fill="#22c822"/>
<rect x="306" y="761.9" width="6.8" height="147.1" fill="#22c822"/>
<rect x="316" y="839" width="6.8" height="70" fill="#22c822"/>
<rect x="326" y="787" width="6.8" height="122" fill="#22c822"/>
<rect x="336" y="807" width="6.8" height="102" fill="#22c822"/>
<rect x="346" y="876" width="6.8" height="33" fill="#22c822"/>
<rect x="356" y="885" width="6.8" height="24" fill="#22c822"/>
<rect x="475.9" y="906.7" width="6.8" height="2.3" fill="#22c822"/>
<rect x="485.9" y="906.7" width="6.8" height="2.3" fill="#22c822"/>
<rect x="505.9" y="906.7" width="6.8" height="2.3" fill="#22c822"/>
<rect x="535.9" y="906.7" width="6.8" height="2.3" fill="#22c822"/>
<rect x="565.8" y="903" width="6.8" height="6" fill="#22c822"/>
<rect x="595.8" y="904" width="6.8" height="5" fill="#22c822"/>
<rect x="605.8" y="868" width="6.8" height="41" fill="#22c822"/>
<rect x="615.8" y="835" width="6.8" height="74" fill="#22c822"/>
<rect x="625.8" y="817" width="6.8" height="92" fill="#22c822"/>
<rect x="635.8" y="825.9" width="6.8" height="83.1" fill="#22c822"/>
<rect x="645.8" y="840" width="6.8" height="69" fill="#22c822"/>
<rect x="655.8" y="859.9" width="6.8" height="49.1" fill="#22c822"/>
<rect x="665.8" y="858" width="6.8" height="51" fill="#22c822"/>
<rect x="675.8" y="880" width="6.8" height="29" fill="#22c822"/>
<rect x="685.8" y="891" width="6.8" height="18" fill="#22c822"/>
<rect x="695.8" y="891" width="6.8" height="18" fill="#22c822"/>
<rect x="705.7" y="883" width="6.8" height="26" fill="#22c822"/>
<rect x="715.7" y="902" width="6.8" height="7" fill="#22c822"/>
<rect x="725.7" y="906.7" width="6.8" height="2.3" fill="#22c822"/>
<rect x="735.7" y="907.3" width="6.8" height="1.7" fill="#22c822"/>
<rect x="765.7" y="901" width="6.8" height="8" fill="#22c822"/>
<rect x="775.7" y="905" width="6.8" height="4" fill="#22c822"/>
<rect x="785.7" y="873" width="6.8" height="36" fill="#22c822"/>
<rect x="795.7" y="873" width="6.8" height="36" fill="#22c822"/>
<rect x="805.7" y="903" width="6.8" height="6" fill="#22c822"/>
<rect x="845.6" y="906.7" width="6.8" height="2.3" fill="#22c822"/>
<rect x="855.6" y="884" width="6.8" height="25" fill="#22c822"/>
<rect x="865.6" y="896" width="6.8" height="13" fill="#22c822"/>
<rect x="875.6" y="906.7" width="6.8" height="2.3" fill="#22c822"/>
<rect x="895.6" y="881" width="6.8" height="28" fill="#22c822"/>
<rect x="905.6" y="897" width="6.8" height="12" fill="#22c822"/>
<rect x="925.6" y="906.7" width="6.8" height="2.3" fill="#22c822"/>
<rect x="935.6" y="906.7" width="6.8" height="2.3" fill="#22c822"/>
<rect x="945.6" y="907.3" width="6.8" height="1.7" fill="#22c822"/>
<line x1="199" y1="136.1" x2="960" y2="136.1" stroke="#000" stroke-width="1.75"/>
<line x1="199" y1="291" x2="960" y2="291" stroke="#000" stroke-width="2.6"/>
<line x1="199" y1="445.4" x2="960" y2="445.4" stroke="#000" stroke-width="2.6"/>
<line x1="199" y1="600" x2="960" y2="600" stroke="#000" stroke-width="2.6"/>
<line x1="199" y1="754.4" x2="960" y2="754.4" stroke="#000" stroke-width="2.6"/>
<line x1="199" y1="908.8" x2="960" y2="908.8" stroke="#000" stroke-width="1.75"/>
<line x1="199.9" y1="136.1" x2="199.9" y2="908.8" stroke="#000" stroke-width="1.9"/>
<line x1="959" y1="136.1" x2="959" y2="908.8" stroke="#000" stroke-width="1.9"/>
<g clip-path="url(#c4)">
<rect x="208.1" y="741.2" width="4" height="0.4" fill="#e6af2d"/>
<rect x="218.1" y="741.2" width="4" height="0.4" fill="#e6af2d"/>
<rect x="228.1" y="741.1" width="4" height="0.5" fill="#e6af2d"/>
<rect x="238.1" y="740.3" width="4" height="1.3" fill="#e6af2d"/>
<rect x="248.1" y="740.3" width="4" height="1.3" fill="#e6af2d"/>
<rect x="258.1" y="739" width="4" height="2.6" fill="#e6af2d"/>
<rect x="268.1" y="739" width="4" height="2.6" fill="#e6af2d"/>
<rect x="278" y="681.2" width="4" height="60.4" fill="#e6af2d"/>
<rect x="288" y="616" width="4" height="125.6" fill="#e6af2d"/>
<rect x="298" y="613" width="4" height="128.6" fill="#e6af2d"/>
<rect x="308" y="624.1" width="4" height="117.5" fill="#e6af2d"/>
<rect x="318" y="614.3" width="4" height="127.3" fill="#e6af2d"/>
<rect x="328" y="652.9" width="4" height="88.7" fill="#e6af2d"/>
<rect x="338" y="666" width="4" height="75.6" fill="#e6af2d"/>
<rect x="348" y="639" width="4" height="102.6" fill="#e6af2d"/>
<rect x="358" y="671" width="4" height="70.6" fill="#e6af2d"/>
<rect x="368" y="682.1" width="4" height="59.5" fill="#e6af2d"/>
<rect x="378" y="715" width="4" height="26.6" fill="#e6af2d"/>
<rect x="388" y="721" width="4" height="20.6" fill="#e6af2d"/>
<rect x="398" y="735" width="4" height="6.6" fill="#e6af2d"/>
<rect x="408" y="720" width="4" height="21.6" fill="#e6af2d"/>
<rect x="417.9" y="741" width="4" height="0.6" fill="#e6af2d"/>
<rect x="427.9" y="741" width="4" height="0.6" fill="#e6af2d"/>
<rect x="447.9" y="741" width="4" height="0.6" fill="#e6af2d"/>
<rect x="457.9" y="737" width="4" height="4.6" fill="#e6af2d"/>
<rect x="467.9" y="726" width="4" height="15.6" fill="#e6af2d"/>
<rect x="477.9" y="689" width="4" height="52.6" fill="#e6af2d"/>
<rect x="487.9" y="670" width="4" height="71.6" fill="#e6af2d"/>
<rect x="497.9" y="661" width="4" height="80.6" fill="#e6af2d"/>
<rect x="507.9" y="650.9" width="4" height="90.7" fill="#e6af2d"/>
<rect x="517.9" y="657" width="4" height="84.6" fill="#e6af2d"/>
<rect x="527.9" y="676" width="4" height="65.6" fill="#e6af2d"/>
<rect x="537.9" y="663" width="4" height="78.6" fill="#e6af2d"/>
<rect x="547.9" y="695.9" width="4" height="45.7" fill="#e6af2d"/>
<rect x="557.8" y="673.1" width="4" height="68.5" fill="#e6af2d"/>
<rect x="567.8" y="676" width="4" height="65.6" fill="#e6af2d"/>
<rect x="577.8" y="732" width="4" height="9.6" fill="#e6af2d"/>
<rect x="587.8" y="703" width="4" height="38.6" fill="#e6af2d"/>
<rect x="597.8" y="681" width="4" height="60.6" fill="#e6af2d"/>
<rect x="607.8" y="619.9" width="4" height="121.7" fill="#e6af2d"/>
<rect x="617.8" y="615.1" width="4" height="126.5" fill="#e6af2d"/>
<rect x="627.8" y="649" width="4" height="92.6" fill="#e6af2d"/>
<rect x="637.8" y="616" width="4" height="125.6" fill="#e6af2d"/>
<rect x="647.8" y="625" width="4" height="116.6" fill="#e6af2d"/>
<rect x="657.8" y="618" width="4" height="123.6" fill="#e6af2d"/>
<rect x="667.8" y="635" width="4" height="106.6" fill="#e6af2d"/>
<rect x="677.8" y="637.9" width="4" height="103.7" fill="#e6af2d"/>
<rect x="687.8" y="637" width="4" height="104.6" fill="#e6af2d"/>
<rect x="697.8" y="628" width="4" height="113.6" fill="#e6af2d"/>
<rect x="707.7" y="624.1" width="4" height="117.5" fill="#e6af2d"/>
<rect x="717.7" y="616" width="4" height="125.6" fill="#e6af2d"/>
<rect x="727.7" y="613.4" width="4" height="128.2" fill="#e6af2d"/>
<rect x="737.7" y="613.4" width="4" height="128.2" fill="#e6af2d"/>
<rect x="747.7" y="619.9" width="4" height="121.7" fill="#e6af2d"/>
<rect x="757.7" y="626" width="4" height="115.6" fill="#e6af2d"/>
<rect x="767.7" y="623" width="4" height="118.6" fill="#e6af2d"/>
<rect x="777.7" y="628" width="4" height="113.6" fill="#e6af2d"/>
<rect x="787.7" y="626" width="4" height="115.6" fill="#e6af2d"/>
<rect x="797.7" y="637" width="4" height="104.6" fill="#e6af2d"/>
<rect x="807.7" y="619" width="4" height="122.6" fill="#e6af2d"/>
<rect x="817.7" y="644" width="4" height="97.6" fill="#e6af2d"/>
<rect x="827.7" y="649" width="4" height="92.6" fill="#e6af2d"/>
<rect x="837.7" y="646.1" width="4" height="95.5" fill="#e6af2d"/>
<rect x="847.6" y="634" width="4" height="107.6" fill="#e6af2d"/>
<rect x="857.6" y="642.1" width="4" height="99.5" fill="#e6af2d"/>
<rect x="867.6" y="650.9" width="4" height="90.7" fill="#e6af2d"/>
<rect x="877.6" y="650" width="4" height="91.6" fill="#e6af2d"/>
<rect x="887.6" y="613.4" width="4" height="128.2" fill="#e6af2d"/>
<rect x="897.6" y="643" width="4" height="98.6" fill="#e6af2d"/>
<rect x="907.6" y="649" width="4" height="92.6" fill="#e6af2d"/>
<rect x="917.6" y="684" width="4" height="57.6" fill="#e6af2d"/>
<rect x="927.6" y="668" width="4" height="73.6" fill="#e6af2d"/>
<rect x="937.6" y="689" width="4" height="52.6" fill="#e6af2d"/>
<rect x="947.6" y="681" width="4" height="60.6" fill="#e6af2d"/>
<rect x="957.6" y="719" width="4" height="22.6" fill="#e6af2d"/>
</g>
<line x1="199.2" y1="613" x2="958" y2="613" stroke="#999" stroke-width="1.05" stroke-dasharray="2.4 8.2"/>
<line x1="199.2" y1="645.1" x2="958" y2="645.1" stroke="#999" stroke-width="1.05" stroke-dasharray="2.4 8.2"/>
<line x1="199.2" y1="677.3" x2="958" y2="677.3" stroke="#999" stroke-width="1.05" stroke-dasharray="2.4 8.2"/>
<line x1="199.2" y1="709.4" x2="958" y2="709.4" stroke="#999" stroke-width="1.05" stroke-dasharray="2.4 8.2"/>
<line x1="199.2" y1="741.6" x2="958" y2="741.6" stroke="#999" stroke-width="1.05" stroke-dasharray="2.4 8.2"/>
<line x1="199.2" y1="755.8" x2="958" y2="755.8" stroke="#999" stroke-width="1.05" stroke-dasharray="2.4 8.2"/>
<line x1="199.2" y1="786.4" x2="958" y2="786.4" stroke="#999" stroke-width="1.05" stroke-dasharray="2.4 8.2"/>
<line x1="199.2" y1="817" x2="958" y2="817" stroke="#999" stroke-width="1.05" stroke-dasharray="2.4 8.2"/>
<line x1="199.2" y1="847.6" x2="958" y2="847.6" stroke="#999" stroke-width="1.05" stroke-dasharray="2.4 8.2"/>
<line x1="199.2" y1="878.2" x2="958" y2="878.2" stroke="#999" stroke-width="1.05" stroke-dasharray="2.4 8.2"/>
<line x1="199.2" y1="908.8" x2="959" y2="908.8" stroke="#bbb" stroke-width="1.6" stroke-dasharray="1.6 9"/>
<line x1="309.9" y1="605.7" x2="309.9" y2="754.4" stroke="#999" stroke-width="1.1" stroke-dasharray="2 6.3"/>
<line x1="309.9" y1="760.1" x2="309.9" y2="908.8" stroke="#999" stroke-width="1.1" stroke-dasharray="2 6.3"/>
<line x1="429.8" y1="605.7" x2="429.8" y2="754.4" stroke="#999" stroke-width="1.1" stroke-dasharray="2 6.3"/>
<line x1="429.8" y1="760.1" x2="429.8" y2="908.8" stroke="#999" stroke-width="1.1" stroke-dasharray="2 6.3"/>
<line x1="549.8" y1="605.7" x2="549.8" y2="754.4" stroke="#999" stroke-width="1.1" stroke-dasharray="2 6.3"/>
<line x1="549.8" y1="760.1" x2="549.8" y2="908.8" stroke="#999" stroke-width="1.1" stroke-dasharray="2 6.3"/>
<line x1="669.7" y1="605.7" x2="669.7" y2="754.4" stroke="#999" stroke-width="1.1" stroke-dasharray="2 6.3"/>
<line x1="669.7" y1="760.1" x2="669.7" y2="908.8" stroke="#999" stroke-width="1.1" stroke-dasharray="2 6.3"/>
<line x1="789.6" y1="605.7" x2="789.6" y2="754.4" stroke="#999" stroke-width="1.1" stroke-dasharray="2 6.3"/>
<line x1="789.6" y1="760.1" x2="789.6" y2="908.8" stroke="#999" stroke-width="1.1" stroke-dasharray="2 6.3"/>
<line x1="909.5" y1="605.7" x2="909.5" y2="754.4" stroke="#999" stroke-width="1.1" stroke-dasharray="2 6.3"/>
<line x1="909.5" y1="760.1" x2="909.5" y2="908.8" stroke="#999" stroke-width="1.1" stroke-dasharray="2 6.3"/>
<line x1="194" y1="162.4" x2="199.9" y2="162.4" stroke="#000" stroke-width="1.5"/>
<text transform="translate(149.4 168.2) scale(1.02 1)" font-size="16.6" fill="#000" font-family='"Liberation Sans", sans-serif' textLength="39.2" lengthAdjust="spacing" stroke="#000" stroke-width="0.18">1010</text>
<line x1="194" y1="199.4" x2="199.9" y2="199.4" stroke="#000" stroke-width="1.5"/>
<text transform="translate(149.4 205.2) scale(1.02 1)" font-size="16.6" fill="#000" font-family='"Liberation Sans", sans-serif' textLength="39.2" lengthAdjust="spacing" stroke="#000" stroke-width="0.18">1005</text>
<line x1="194" y1="236.4" x2="199.9" y2="236.4" stroke="#000" stroke-width="1.5"/>
<text transform="translate(149.4 242.2) scale(1.02 1)" font-size="16.6" fill="#000" font-family='"Liberation Sans", sans-serif' textLength="39.2" lengthAdjust="spacing" stroke="#000" stroke-width="0.18">1000</text>
<line x1="194" y1="273.4" x2="199.9" y2="273.4" stroke="#000" stroke-width="1.5"/>
<text transform="translate(159.4 279.2) scale(1.02 1)" font-size="16.6" fill="#000" font-family='"Liberation Sans", sans-serif' textLength="29.4" lengthAdjust="spacing" stroke="#000" stroke-width="0.18">995</text>
<line x1="194" y1="307.4" x2="199.9" y2="307.4" stroke="#000" stroke-width="1.5"/>
<text transform="translate(169.8 313.2) scale(1.02 1)" font-size="16.6" fill="#000" font-family='"Liberation Sans", sans-serif' textLength="19.2" lengthAdjust="spacing" stroke="#000" stroke-width="0.18">12</text>
<line x1="194" y1="350.4" x2="199.9" y2="350.4" stroke="#000" stroke-width="1.5"/>
<text transform="translate(180.2 356.2) scale(1.02 1)" font-size="16.6" fill="#000" font-family='"Liberation Sans", sans-serif' textLength="9" lengthAdjust="spacing" stroke="#000" stroke-width="0.18">8</text>
<line x1="194" y1="393.2" x2="199.9" y2="393.2" stroke="#000" stroke-width="1.5"/>
<text transform="translate(180.2 399) scale(1.02 1)" font-size="16.6" fill="#000" font-family='"Liberation Sans", sans-serif' textLength="9" lengthAdjust="spacing" stroke="#000" stroke-width="0.18">4</text>
<line x1="194" y1="436.2" x2="199.9" y2="436.2" stroke="#000" stroke-width="1.5"/>
<text transform="translate(180.2 442) scale(1.02 1)" font-size="16.6" fill="#000" font-family='"Liberation Sans", sans-serif' textLength="9" lengthAdjust="spacing" stroke="#000" stroke-width="0.18">0</text>
<line x1="194" y1="457" x2="199.9" y2="457" stroke="#000" stroke-width="1.5"/>
<text transform="translate(169.8 462.8) scale(1.02 1)" font-size="16.6" fill="#000" font-family='"Liberation Sans", sans-serif' textLength="19.2" lengthAdjust="spacing" stroke="#000" stroke-width="0.18">21</text>
<line x1="194" y1="474" x2="199.9" y2="474" stroke="#000" stroke-width="1.5"/>
<text transform="translate(169.8 479.8) scale(1.02 1)" font-size="16.6" fill="#000" font-family='"Liberation Sans", sans-serif' textLength="19.2" lengthAdjust="spacing" stroke="#000" stroke-width="0.18">18</text>
<line x1="194" y1="491" x2="199.9" y2="491" stroke="#000" stroke-width="1.5"/>
<text transform="translate(169.8 496.8) scale(1.02 1)" font-size="16.6" fill="#000" font-family='"Liberation Sans", sans-serif' textLength="19.2" lengthAdjust="spacing" stroke="#000" stroke-width="0.18">15</text>
<line x1="194" y1="508" x2="199.9" y2="508" stroke="#000" stroke-width="1.5"/>
<text transform="translate(169.8 513.8) scale(1.02 1)" font-size="16.6" fill="#000" font-family='"Liberation Sans", sans-serif' textLength="19.2" lengthAdjust="spacing" stroke="#000" stroke-width="0.18">12</text>
<line x1="194" y1="525" x2="199.9" y2="525" stroke="#000" stroke-width="1.5"/>
<text transform="translate(180.2 530.8) scale(1.02 1)" font-size="16.6" fill="#000" font-family='"Liberation Sans", sans-serif' textLength="9" lengthAdjust="spacing" stroke="#000" stroke-width="0.18">9</text>
<line x1="194" y1="542" x2="199.9" y2="542" stroke="#000" stroke-width="1.5"/>
<text transform="translate(180.2 547.8) scale(1.02 1)" font-size="16.6" fill="#000" font-family='"Liberation Sans", sans-serif' textLength="9" lengthAdjust="spacing" stroke="#000" stroke-width="0.18">6</text>
<line x1="194" y1="559" x2="199.9" y2="559" stroke="#000" stroke-width="1.5"/>
<text transform="translate(180.2 564.8) scale(1.02 1)" font-size="16.6" fill="#000" font-family='"Liberation Sans", sans-serif' textLength="9" lengthAdjust="spacing" stroke="#000" stroke-width="0.18">3</text>
<line x1="194" y1="576" x2="199.9" y2="576" stroke="#000" stroke-width="1.5"/>
<text transform="translate(180.2 581.8) scale(1.02 1)" font-size="16.6" fill="#000" font-family='"Liberation Sans", sans-serif' textLength="9" lengthAdjust="spacing" stroke="#000" stroke-width="0.18">0</text>
<line x1="194" y1="593" x2="199.9" y2="593" stroke="#000" stroke-width="1.5"/>
<text transform="translate(166.6 599.3) scale(2.1 1)" font-size="17.5" fill="#000" font-family='"Liberation Sans", sans-serif'>-</text>
<text transform="translate(180.2 598.8) scale(1.02 1)" font-size="16.6" fill="#000" font-family='"Liberation Sans", sans-serif' textLength="9" lengthAdjust="spacing" stroke="#000" stroke-width="0.18">3</text>
<line x1="194" y1="613" x2="199.9" y2="613" stroke="#000" stroke-width="1.5"/>
<text transform="translate(159.4 618.8) scale(1.02 1)" font-size="16.6" fill="#000" font-family='"Liberation Sans", sans-serif' textLength="29.4" lengthAdjust="spacing" stroke="#000" stroke-width="0.18">100</text>
<line x1="194" y1="645.1" x2="199.9" y2="645.1" stroke="#000" stroke-width="1.5"/>
<text transform="translate(169.8 650.9) scale(1.02 1)" font-size="16.6" fill="#000" font-family='"Liberation Sans", sans-serif' textLength="19.2" lengthAdjust="spacing" stroke="#000" stroke-width="0.18">75</text>
<line x1="194" y1="677.3" x2="199.9" y2="677.3" stroke="#000" stroke-width="1.5"/>
<text transform="translate(169.8 683.1) scale(1.02 1)" font-size="16.6" fill="#000" font-family='"Liberation Sans", sans-serif' textLength="19.2" lengthAdjust="spacing" stroke="#000" stroke-width="0.18">50</text>
<line x1="194" y1="709.4" x2="199.9" y2="709.4" stroke="#000" stroke-width="1.5"/>
<text transform="translate(169.8 715.2) scale(1.02 1)" font-size="16.6" fill="#000" font-family='"Liberation Sans", sans-serif' textLength="19.2" lengthAdjust="spacing" stroke="#000" stroke-width="0.18">25</text>
<line x1="194" y1="741.6" x2="199.9" y2="741.6" stroke="#000" stroke-width="1.5"/>
<text transform="translate(180.2 747.4) scale(1.02 1)" font-size="16.6" fill="#000" font-family='"Liberation Sans", sans-serif' textLength="9" lengthAdjust="spacing" stroke="#000" stroke-width="0.18">0</text>
<line x1="194" y1="755.8" x2="199.9" y2="755.8" stroke="#000" stroke-width="1.5"/>
<text transform="translate(153.9 761.6) scale(1.02 1)" font-size="16.6" fill="#000" font-family='"Liberation Sans", sans-serif' textLength="34.8" lengthAdjust="spacing" stroke="#000" stroke-width="0.18">1.65</text>
<line x1="194" y1="786.4" x2="199.9" y2="786.4" stroke="#000" stroke-width="1.5"/>
<text transform="translate(153.9 792.2) scale(1.02 1)" font-size="16.6" fill="#000" font-family='"Liberation Sans", sans-serif' textLength="34.8" lengthAdjust="spacing" stroke="#000" stroke-width="0.18">1.32</text>
<line x1="194" y1="817" x2="199.9" y2="817" stroke="#000" stroke-width="1.5"/>
<text transform="translate(153.9 822.8) scale(1.02 1)" font-size="16.6" fill="#000" font-family='"Liberation Sans", sans-serif' textLength="34.8" lengthAdjust="spacing" stroke="#000" stroke-width="0.18">0.99</text>
<line x1="194" y1="847.6" x2="199.9" y2="847.6" stroke="#000" stroke-width="1.5"/>
<text transform="translate(153.9 853.4) scale(1.02 1)" font-size="16.6" fill="#000" font-family='"Liberation Sans", sans-serif' textLength="34.8" lengthAdjust="spacing" stroke="#000" stroke-width="0.18">0.66</text>
<line x1="194" y1="878.2" x2="199.9" y2="878.2" stroke="#000" stroke-width="1.5"/>
<text transform="translate(153.9 884) scale(1.02 1)" font-size="16.6" fill="#000" font-family='"Liberation Sans", sans-serif' textLength="34.8" lengthAdjust="spacing" stroke="#000" stroke-width="0.18">0.33</text>
<line x1="194" y1="909" x2="199.9" y2="909" stroke="#000" stroke-width="1.5"/>
<text transform="translate(180.2 914.8) scale(1.02 1)" font-size="16.6" fill="#000" font-family='"Liberation Sans", sans-serif' textLength="9" lengthAdjust="spacing" stroke="#000" stroke-width="0.18">0</text>
<line x1="313.4" y1="131.4" x2="313.4" y2="136" stroke="#000" stroke-width="1.1"/>
<text transform="translate(295.1 127.6) scale(1.22 1)" font-size="16.8" fill="#111" font-family='"Liberation Sans", sans-serif' letter-spacing="0.53" word-spacing="0.00" stroke="#fff" stroke-width="0.2">00Z</text>
<text transform="translate(281.1 109.6) scale(1.1 1)" font-size="16.8" fill="#111" font-family='"Liberation Sans", sans-serif' letter-spacing="0.68" word-spacing="0.00" stroke="#fff" stroke-width="0.2">27MAR</text>
<text transform="translate(288.4 91.6) scale(1.3 1)" font-size="16.8" fill="#111" font-family='"Liberation Sans", sans-serif' letter-spacing="0.36" word-spacing="0.00" stroke="#fff" stroke-width="0.2">2026</text>
<line x1="309.9" y1="908.8" x2="309.9" y2="914.2" stroke="#000" stroke-width="1.1"/>
<text transform="translate(291.6 930.6) scale(1.22 1)" font-size="16.8" fill="#111" font-family='"Liberation Sans", sans-serif' letter-spacing="0.53" word-spacing="0.00" stroke="#fff" stroke-width="0.2">00Z</text>
<text transform="translate(277.4 948.6) scale(1.1 1)" font-size="16.8" fill="#111" font-family='"Liberation Sans", sans-serif' letter-spacing="0.77" word-spacing="0.00" stroke="#fff" stroke-width="0.2">27MAR</text>
<text transform="translate(284.9 966) scale(1.3 1)" font-size="16.8" fill="#111" font-family='"Liberation Sans", sans-serif' letter-spacing="0.36" word-spacing="0.00" stroke="#fff" stroke-width="0.2">2026</text>
<line x1="431.6" y1="131.4" x2="431.6" y2="136" stroke="#000" stroke-width="1.1"/>
<text transform="translate(414.4 127.6) scale(1.22 1)" font-size="16.8" fill="#111" font-family='"Liberation Sans", sans-serif' letter-spacing="-0.37" word-spacing="0.00" stroke="#fff" stroke-width="0.2">12Z</text>
<line x1="429.8" y1="908.8" x2="429.8" y2="914.2" stroke="#000" stroke-width="1.1"/>
<text transform="translate(412.6 930.6) scale(1.22 1)" font-size="16.8" fill="#111" font-family='"Liberation Sans", sans-serif' letter-spacing="-0.37" word-spacing="0.00" stroke="#fff" stroke-width="0.2">12Z</text>
<line x1="549.7" y1="131.4" x2="549.7" y2="136" stroke="#000" stroke-width="1.1"/>
<text transform="translate(531.4 127.6) scale(1.22 1)" font-size="16.8" fill="#111" font-family='"Liberation Sans", sans-serif' letter-spacing="0.53" word-spacing="0.00" stroke="#fff" stroke-width="0.2">00Z</text>
<text transform="translate(517.4 109.6) scale(1.1 1)" font-size="16.8" fill="#111" font-family='"Liberation Sans", sans-serif' letter-spacing="0.68" word-spacing="0.00" stroke="#fff" stroke-width="0.2">28MAR</text>
<line x1="549.8" y1="908.8" x2="549.8" y2="914.2" stroke="#000" stroke-width="1.1"/>
<text transform="translate(531.5 930.6) scale(1.22 1)" font-size="16.8" fill="#111" font-family='"Liberation Sans", sans-serif' letter-spacing="0.53" word-spacing="0.00" stroke="#fff" stroke-width="0.2">00Z</text>
<text transform="translate(517.3 948.6) scale(1.1 1)" font-size="16.8" fill="#111" font-family='"Liberation Sans", sans-serif' letter-spacing="0.77" word-spacing="0.00" stroke="#fff" stroke-width="0.2">28MAR</text>
<line x1="667.9" y1="131.4" x2="667.9" y2="136" stroke="#000" stroke-width="1.1"/>
<text transform="translate(650.7 127.6) scale(1.22 1)" font-size="16.8" fill="#111" font-family='"Liberation Sans", sans-serif' letter-spacing="-0.37" word-spacing="0.00" stroke="#fff" stroke-width="0.2">12Z</text>
<line x1="669.7" y1="908.8" x2="669.7" y2="914.2" stroke="#000" stroke-width="1.1"/>
<text transform="translate(652.5 930.6) scale(1.22 1)" font-size="16.8" fill="#111" font-family='"Liberation Sans", sans-serif' letter-spacing="-0.37" word-spacing="0.00" stroke="#fff" stroke-width="0.2">12Z</text>
<line x1="786.1" y1="131.4" x2="786.1" y2="136" stroke="#000" stroke-width="1.1"/>
<text transform="translate(767.8 127.6) scale(1.22 1)" font-size="16.8" fill="#111" font-family='"Liberation Sans", sans-serif' letter-spacing="0.53" word-spacing="0.00" stroke="#fff" stroke-width="0.2">00Z</text>
<text transform="translate(753.8 109.6) scale(1.1 1)" font-size="16.8" fill="#111" font-family='"Liberation Sans", sans-serif' letter-spacing="0.68" word-spacing="0.00" stroke="#fff" stroke-width="0.2">29MAR</text>
<line x1="789.6" y1="908.8" x2="789.6" y2="914.2" stroke="#000" stroke-width="1.1"/>
<text transform="translate(771.3 930.6) scale(1.22 1)" font-size="16.8" fill="#111" font-family='"Liberation Sans", sans-serif' letter-spacing="0.53" word-spacing="0.00" stroke="#fff" stroke-width="0.2">00Z</text>
<text transform="translate(757.1 948.6) scale(1.1 1)" font-size="16.8" fill="#111" font-family='"Liberation Sans", sans-serif' letter-spacing="0.77" word-spacing="0.00" stroke="#fff" stroke-width="0.2">29MAR</text>
<line x1="904.2" y1="131.4" x2="904.2" y2="136" stroke="#000" stroke-width="1.1"/>
<text transform="translate(887 127.6) scale(1.22 1)" font-size="16.8" fill="#111" font-family='"Liberation Sans", sans-serif' letter-spacing="-0.37" word-spacing="0.00" stroke="#fff" stroke-width="0.2">12Z</text>
<line x1="909.5" y1="908.8" x2="909.5" y2="914.2" stroke="#000" stroke-width="1.1"/>
<text transform="translate(892.3 930.6) scale(1.22 1)" font-size="16.8" fill="#111" font-family='"Liberation Sans", sans-serif' letter-spacing="-0.37" word-spacing="0.00" stroke="#fff" stroke-width="0.2">12Z</text>
<text transform="translate(334.4 15.6) scale(1.42 1)" font-size="17.6" fill="#f0bc68" font-family='"Liberation Sans", sans-serif' letter-spacing="1.19" word-spacing="0.00" stroke="#fff" stroke-width="0.5">Forecast</text>
<text transform="translate(461 15.6) scale(1.42 1)" font-size="17.6" fill="#f0bc68" font-family='"Liberation Sans", sans-serif' letter-spacing="0.93" word-spacing="0.00" stroke="#fff" stroke-width="0.5">Meteogram</text>
<text transform="translate(357 48.9) scale(1.33 1)" font-size="24.5" fill="#c6e0c6" font-family='"Liberation Serif", serif' letter-spacing="1.89" word-spacing="0.00" stroke="#c6e0c6" stroke-width="0.7">Mamushe</text>
<text transform="translate(355.3 47.2) scale(1.33 1)" font-size="24.5" fill="#000" font-family='"Liberation Serif", serif' letter-spacing="1.89" word-spacing="0.00" stroke="#000" stroke-width="0.7">Mamushe</text>
<text transform="translate(25.2 60.6) scale(1.1 1)" font-size="17" fill="#a248ea" font-family='"Liberation Sans", sans-serif' letter-spacing="1.65" word-spacing="0.00" stroke="#fff" stroke-width="0.3">ICON</text>
<text transform="translate(79.0 60.5) scale(3.75 1)" font-size="17" fill="#a248ea" font-family='"Liberation Sans", sans-serif' stroke="#fff" stroke-width="0.45">-</text>
<text transform="translate(101.4 60.6) scale(1.1 1)" font-size="17" fill="#a248ea" font-family='"Liberation Sans", sans-serif' letter-spacing="1.10" word-spacing="0.00" stroke="#fff" stroke-width="0.3">EU,</text>
<text transform="translate(152.6 60.6) scale(1.55 1)" font-size="17" fill="#a248ea" font-family='"Liberation Sans", sans-serif' letter-spacing="0.39" word-spacing="0.00" stroke="#fff" stroke-width="0.3">~</text>
<text transform="translate(186.7 60.6) scale(1.3 1)" font-size="17" fill="#a248ea" font-family='"Liberation Sans", sans-serif' letter-spacing="1.87" word-spacing="0.00" stroke="#fff" stroke-width="0.35">7km</text>
<text transform="translate(589 22.6) scale(1.22 1)" font-size="12.6" fill="#a248ea" font-family='"Liberation Sans", sans-serif' letter-spacing="1.89" word-spacing="5.53" stroke="#fff" stroke-width="0.2">requested lon,lat (20.7242E, 42.3283N)</text>
<text transform="translate(526.4 40.6) scale(1.22 1)" font-size="12.6" fill="#a248ea" font-family='"Liberation Sans", sans-serif' letter-spacing="1.89" word-spacing="3.73" stroke="#fff" stroke-width="0.2">grid point closest lon,lat (20.75E, 42.3125N)</text>
<text transform="translate(778.8 58.6) scale(1.22 1)" font-size="12.6" fill="#a248ea" font-family='"Liberation Sans", sans-serif' letter-spacing="1.89" word-spacing="4.45" stroke="#fff" stroke-width="0.2">Point Altitude 329m</text>
<text transform="translate(716.8 76.6) scale(1.22 1)" font-size="12.6" fill="#a248ea" font-family='"Liberation Sans", sans-serif' letter-spacing="1.89" word-spacing="3.53" stroke="#fff" stroke-width="0.2">Model Point Altitude 369m</text>
<text transform="translate(427.2 973.8) scale(1.3 1)" font-size="16.2" fill="#cfe3cf" font-family='"Liberation Serif", serif' letter-spacing="0.93" word-spacing="0.00">Mamushe</text>
<text transform="translate(425 972) scale(1.3 1)" font-size="16.2" fill="#3c3c3c" font-family='"Liberation Serif", serif' letter-spacing="0.92" word-spacing="0.00">Mamushe</text>
<text x="25.5" y="236" font-size="20.9" fill="#14a0fa" font-family='"Liberation Sans", sans-serif' textLength="45" lengthAdjust="spacingAndGlyphs" stroke="#fff" stroke-width="0.15" transform="rotate(-90 25.5 236)" word-spacing="5">PRMSL</text>
<text x="49" y="307" font-size="20.3" fill="#14a0fa" font-family='"Liberation Sans", sans-serif' textLength="187" lengthAdjust="spacingAndGlyphs" stroke="#fff" stroke-width="0.15" transform="rotate(-90 49 307)" word-spacing="5">Pressure Reduced to MSL</text>
<text x="107" y="232" font-size="22.3" fill="#000" font-family='"Liberation Sans", sans-serif' textLength="38" lengthAdjust="spacingAndGlyphs" stroke="#fff" stroke-width="0.15" transform="rotate(-90 107 232)" word-spacing="5">(hPa)</text>
<text x="25.5" y="406" font-size="20.9" fill="#fa3c3c" font-family='"Liberation Sans", sans-serif' textLength="75" lengthAdjust="spacingAndGlyphs" stroke="#fff" stroke-width="0.15" transform="rotate(-90 25.5 406)" word-spacing="5">Wind GUST</text>
<text x="49" y="410" font-size="20.3" fill="#000" font-family='"Liberation Sans", sans-serif' textLength="69" lengthAdjust="spacingAndGlyphs" stroke="#fff" stroke-width="0.15" transform="rotate(-90 49 410)" word-spacing="5">10m Wind</text>
<text x="72" y="441" font-size="20.3" fill="#14c814" font-family='"Liberation Sans", sans-serif' textLength="146" lengthAdjust="spacingAndGlyphs" stroke="#fff" stroke-width="0.15" transform="rotate(-90 72 441)" word-spacing="5">Speed and Direction</text>
<text x="102.5" y="389" font-size="23.0" fill="#000" font-family='"Liberation Sans", sans-serif' textLength="42" lengthAdjust="spacingAndGlyphs" stroke="#fff" stroke-width="0.15" transform="rotate(-90 102.5 389)" word-spacing="5">(m/s)</text>
<text x="49" y="564" font-size="20.3" fill="#fa3c3c" font-family='"Liberation Sans", sans-serif' textLength="66" lengthAdjust="spacingAndGlyphs" stroke="#fff" stroke-width="0.15" transform="rotate(-90 49 564)" word-spacing="5">2m Temp</text>
<text x="72" y="562" font-size="20.3" fill="#e6af2d" font-family='"Liberation Sans", sans-serif' textLength="70" lengthAdjust="spacingAndGlyphs" stroke="#fff" stroke-width="0.15" transform="rotate(-90 72 562)" word-spacing="5">SFC Temp</text>
<text x="96" y="569" font-size="20.3" fill="#14dc14" font-family='"Liberation Sans", sans-serif' textLength="85" lengthAdjust="spacingAndGlyphs" stroke="#fff" stroke-width="0.15" transform="rotate(-90 96 569)" word-spacing="5">dewpt Temp</text>
<text x="120.5" y="533.5" font-size="23.0" fill="#000" font-family='"Liberation Sans", sans-serif' textLength="22" lengthAdjust="spacingAndGlyphs" stroke="#fff" stroke-width="0.15" transform="rotate(-90 120.5 533.5)" word-spacing="5">(C)</text>
<text x="25.5" y="722" font-size="20.9" fill="#14a0fa" font-family='"Liberation Sans", sans-serif' textLength="89" lengthAdjust="spacingAndGlyphs" stroke="#fff" stroke-width="0.15" transform="rotate(-90 25.5 722)" word-spacing="5">Total Clouds</text>
<text x="72" y="718" font-size="20.3" fill="#e6af2d" font-family='"Liberation Sans", sans-serif' textLength="81" lengthAdjust="spacingAndGlyphs" stroke="#fff" stroke-width="0.15" transform="rotate(-90 72 718)" word-spacing="5">Low Clouds</text>
<text x="120.5" y="688.5" font-size="23.0" fill="#000" font-family='"Liberation Sans", sans-serif' textLength="23" lengthAdjust="spacingAndGlyphs" stroke="#fff" stroke-width="0.15" transform="rotate(-90 120.5 688.5)" word-spacing="5">(%)</text>
<text x="137" y="889" font-size="20.3" fill="#000" font-family='"Liberation Sans", sans-serif' textLength="121" lengthAdjust="spacingAndGlyphs" stroke="#fff" stroke-width="0.15" transform="rotate(-90 137 889)" word-spacing="5">1hr Precip (mm)</text>
<text transform="translate(14 823.4) scale(1.3 1)" font-size="14.6" fill="#28c828" font-family='"Liberation Sans", sans-serif' letter-spacing="0.37" word-spacing="0.00" stroke="#fff" stroke-width="0.2">Total</text>
<text transform="translate(79.5 823.4) scale(1.3 1)" font-size="14.6" fill="#28c828" font-family='"Liberation Sans", sans-serif' letter-spacing="-0.65" word-spacing="0.00" stroke="#fff" stroke-width="0.2">Rain</text>
<text transform="translate(14.5 860) scale(1.3 1)" font-size="14.6" fill="#3c3cff" font-family='"Liberation Sans", sans-serif' letter-spacing="0.92" word-spacing="0.00" stroke="#fff" stroke-width="0.2">Snow/1h</text>
<text transform="translate(53 887) scale(1.3 1)" font-size="14.6" fill="#3c3cff" font-family='"Liberation Sans", sans-serif' letter-spacing="1.73" word-spacing="0.00" stroke="#fff" stroke-width="0.2">[cm]</text>
<text x="984.3" y="726.5" font-size="21.4" fill="#d6e5d6" font-family='"Liberation Serif", serif' textLength="66.5" lengthAdjust="spacingAndGlyphs" stroke="#fff" stroke-width="0.25" transform="rotate(-90 984.3 726.5)" word-spacing="5">by Angel</text>
<text transform="translate(136.1 299.3) scale(1.08 1)" font-size="11.2" fill="#b066f0" text-anchor="middle" font-family='"Liberation Sans", sans-serif'>N</text>
<text transform="translate(97.9 331.1) scale(0.95 1)" font-size="11.2" fill="#b066f0" text-anchor="middle" font-family='"Liberation Sans", sans-serif'>W</text>
<text transform="translate(171.8 331.1) scale(1.05 1)" font-size="11.2" fill="#b066f0" text-anchor="middle" font-family='"Liberation Sans", sans-serif'>E</text>
<text transform="translate(136.1 358.4) scale(1.05 1)" font-size="11.2" fill="#b066f0" text-anchor="middle" font-family='"Liberation Sans", sans-serif'>S</text>
<text transform="translate(136.1 316.2) scale(1.3 1)" font-size="14" fill="#b066f0" text-anchor="middle" font-family='"Liberation Sans", sans-serif'>^</text>
<text transform="translate(136.1 348.4) scale(1.5 1)" font-size="10.6" fill="#b066f0" text-anchor="middle" font-family='"Liberation Sans", sans-serif'>v</text>
<text transform="translate(117.7 332) scale(1.2 1)" font-size="12.5" fill="#b066f0" text-anchor="middle" font-family='"Liberation Sans", sans-serif'>&lt;</text>
<text transform="translate(153.1 332) scale(1.2 1)" font-size="12.5" fill="#b066f0" text-anchor="middle" font-family='"Liberation Sans", sans-serif'>&gt;</text>
<text transform="translate(129.1 330.9) scale(2.6 1)" font-size="12" fill="#b066f0" text-anchor="middle" font-family='"Liberation Sans", sans-serif'>-</text>
<text transform="translate(141.4 330.9) scale(2.6 1)" font-size="12" fill="#b066f0" text-anchor="middle" font-family='"Liberation Sans", sans-serif'>-</text>
<text transform="translate(136.1 319.6) scale(1.0 1)" font-size="6.8" fill="#b066f0" text-anchor="middle" font-family='"Liberation Sans", sans-serif' stroke="#b066f0" stroke-width="0.35">|</text>
<text transform="translate(136.1 338.2) scale(1.0 1)" font-size="6.8" fill="#b066f0" text-anchor="middle" font-family='"Liberation Sans", sans-serif' stroke="#b066f0" stroke-width="0.35">|</text>
</svg>
</body></html>
